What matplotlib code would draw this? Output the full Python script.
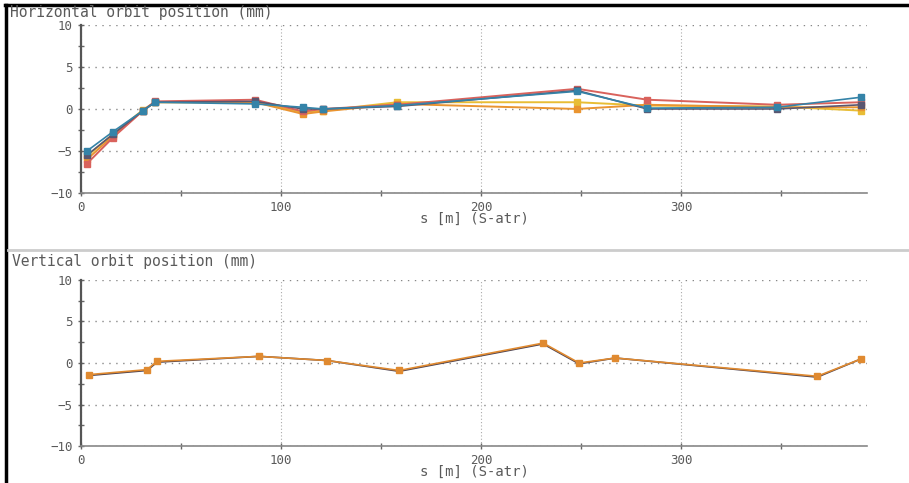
import numpy as np
import matplotlib
matplotlib.use("Agg")
import matplotlib.pyplot as plt
from matplotlib.lines import Line2D

# horizontal orbit, several measurements (mm)
s_h = [3, 16, 31, 37, 87, 111, 121, 158, 248, 283, 348, 390]
h_blue = [-5.0, -2.7, -0.2, 0.8, 0.6, 0.2, 0.0, 0.4, 2.1, 0.1, 0.2, 1.4]
h_gray = [-5.5, -3.0, -0.2, 0.8, 0.9, 0.0, 0.0, 0.3, 2.2, 0.0, 0.0, 0.5]
h_red = [-6.5, -3.4, -0.2, 0.9, 1.1, -0.3, 0.0, 0.5, 2.4, 1.1, 0.5, 0.8]
h_orange = [-6.0, -3.2, -0.2, 0.8, 0.8, -0.6, -0.3, 0.6, 0.0, 0.5, 0.2, 0.2]
h_yellow = [-5.6, -3.0, -0.1, 0.8, 0.8, -0.4, -0.2, 0.8, 0.8, 0.4, 0.3, -0.2]

# vertical orbit (mm)
s_v = [4, 33, 38, 89, 123, 159, 231, 249, 267, 368, 390]
v_dark = [-1.5, -0.9, 0.1, 0.8, 0.3, -1.0, 2.3, -0.1, 0.6, -1.7, 0.5]
v_orange = [-1.4, -0.8, 0.2, 0.8, 0.3, -0.9, 2.4, 0.0, 0.6, -1.6, 0.5]

txt = "#5a5a5a"
mono = "DejaVu Sans Mono"

fig = plt.figure(figsize=(9.09, 4.83), dpi=100)
ax1 = fig.add_axes([0.0891, 0.6004, 0.865, 0.348])
ax2 = fig.add_axes([0.0891, 0.0766, 0.865, 0.3437])


def style(ax):
    ax.set_xlim(0, 393)
    ax.set_ylim(-10, 10)
    ax.set_xticks([0, 100, 200, 300])
    ax.set_xticks([50, 150, 250, 350], minor=True)
    ax.set_yticks([-10, -5, 0, 5, 10])
    ax.set_yticks([-7.5, -2.5, 2.5, 7.5], minor=True)
    for sp in ["top", "right"]:
        ax.spines[sp].set_visible(False)
    ax.spines["left"].set_color("#555555")
    ax.spines["left"].set_linewidth(1.6)
    ax.spines["bottom"].set_color("#888888")
    ax.spines["bottom"].set_linewidth(1.2)
    ax.tick_params(which="both", direction="inout", colors="#666666", labelcolor=txt,
                   labelsize=9, width=1)
    ax.tick_params(which="major", length=5)
    ax.tick_params(which="minor", length=4)
    ax.tick_params(axis="x", pad=3)
    for lab in ax.get_xticklabels() + ax.get_yticklabels():
        lab.set_family(mono)
    ax.grid(axis="y", which="major", color="#888888", linestyle=(0, (1, 4)), linewidth=1)
    ax.grid(axis="x", which="major", color="#aaaaaa", linestyle=(0, (1, 2)), linewidth=0.8)
    ax.set_axisbelow(True)
    ax.set_xlabel("s [m] (S-atr)", family=mono, fontsize=10, color=txt, labelpad=-1)


style(ax1)
style(ax2)

ax1.plot(s_h, h_yellow, "-s", color="#e8bd35", ms=5, lw=1.4)
ax1.plot(s_h, h_orange, "-s", color="#ea9430", ms=5, lw=1.4)
ax1.plot(s_h, h_red, "-s", color="#d9625c", ms=5, lw=1.4)
ax1.plot(s_h, h_gray, "-s", color="#5a5670", ms=4, lw=1.2)
ax1.plot(s_h, h_blue, "-s", color="#3483a8", ms=5, lw=1.2)

ax2.plot(s_v, v_dark, "-", color="#4a4050", lw=1.2)
ax2.plot(s_v, v_orange, "-s", color="#e08a30", ms=5, lw=1.2)

fig.text(0.011, 0.975, "Horizontal orbit position (mm)", family=mono, fontsize=10.5,
         color=txt, va="center")
fig.text(0.013, 0.458, "Vertical orbit position (mm)", family=mono, fontsize=10.5,
         color=txt, va="center")

# frame lines of the screenshot
fig.add_artist(Line2D([0.005, 1], [0.99, 0.99], color="black", lw=2.5))
fig.add_artist(Line2D([0.007, 0.007], [0, 0.99], color="black", lw=2.5))
fig.add_artist(Line2D([0.009, 1], [0.482, 0.482], color="#cccccc", lw=2))

plt.savefig("out.png", dpi=100)
plt.close()
